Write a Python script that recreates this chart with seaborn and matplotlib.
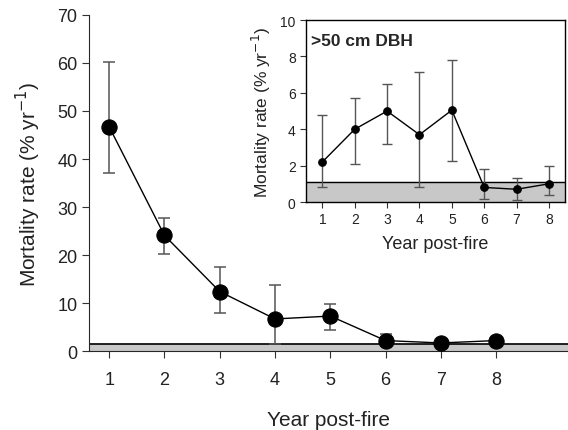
import numpy as np
import pandas as pd
import matplotlib
matplotlib.use("Agg")
import matplotlib.pyplot as plt
import seaborn as sns

# Data
years = [1, 2, 3, 4, 5, 6, 7, 8]
main_rate = [46.7, 24.1, 12.4, 6.7, 7.3, 2.2, 1.7, 2.2]
main_lo = [37.0, 20.2, 7.9, 1.4, 4.5, 1.0, 1.0, 1.5]
main_hi = [60.2, 27.8, 17.6, 13.7, 9.8, 3.6, 2.2, 2.8]
main_band = 1.4

big_rate = [2.2, 4.0, 5.0, 3.7, 5.05, 0.8, 0.7, 1.0]
big_lo = [0.8, 2.1, 3.2, 0.8, 2.25, 0.15, 0.1, 0.4]
big_hi = [4.8, 5.7, 6.5, 7.15, 7.8, 1.8, 1.3, 2.0]
big_band = 1.08

sns.set_style("ticks")
plt.rcParams['font.family'] = ['Liberation Sans', 'DejaVu Sans']

df_main = pd.DataFrame({"year": years, "rate": main_rate})
df_big = pd.DataFrame({"year": years, "rate": big_rate})

fig = plt.figure(figsize=(5.68, 4.31), dpi=100)
ax = fig.add_axes([0.157, 0.183, 0.843, 0.78])

# Main panel
ax.axhspan(0, main_band, color="#c8c8c8", zorder=0)
ax.axhline(main_band, color="black", lw=1.2, zorder=1)
ax.errorbar(years, main_rate,
            yerr=[np.array(main_rate) - np.array(main_lo), np.array(main_hi) - np.array(main_rate)],
            fmt="none", ecolor="#555555", elinewidth=1.1, capsize=4, capthick=1.1, zorder=2)
sns.lineplot(data=df_main, x="year", y="rate", ax=ax, color="black", lw=1,
             marker="o", markersize=11, markeredgecolor="black", zorder=3)
ax.set_xlim(0.638, 9.3)
ax.set_ylim(0, 70)
ax.set_xticks(years)
ax.set_yticks(range(0, 71, 10))
sns.despine(ax=ax, top=True, right=True)
ax.tick_params(labelsize=13, length=5, color="#333333", labelcolor="#222222")
ax.tick_params(axis="x", pad=9)
ax.set_xlabel("Year post-fire", fontsize=15, labelpad=16, color="#222222")
ax.set_ylabel("Mortality rate (% yr$^{-1}$)", fontsize=15, labelpad=10, color="#222222")

# Inset panel
ins = fig.add_axes([0.539, 0.529, 0.456, 0.422])
ins.axhspan(0, big_band, color="#c8c8c8", zorder=0)
ins.axhline(big_band, color="black", lw=1.0, zorder=1)
ins.errorbar(years, big_rate,
             yerr=[np.array(big_rate) - np.array(big_lo), np.array(big_hi) - np.array(big_rate)],
             fmt="none", ecolor="#555555", elinewidth=1.0, capsize=3.5, capthick=1.0, zorder=2)
sns.lineplot(data=df_big, x="year", y="rate", ax=ins, color="black", lw=1,
             marker="o", markersize=5.5, markeredgecolor="black", zorder=3)
ins.set_xlim(0.5, 8.5)
ins.set_ylim(0, 10)
ins.set_xticks(years)
ins.set_yticks(range(0, 11, 2))
for s in ins.spines.values():
    s.set_color("black")
    s.set_linewidth(1.0)
ins.tick_params(labelsize=10, length=4, color="#333333", labelcolor="#222222")
ins.set_xlabel("Year post-fire", fontsize=13, labelpad=6, color="#222222")
ins.set_ylabel("Mortality rate (% yr$^{-1}$)", fontsize=12.5, labelpad=5, color="#222222")
ins.text(0.02, 0.93, ">50 cm DBH", transform=ins.transAxes, fontsize=12.5,
         fontweight="bold", va="top", ha="left")

fig.savefig("out.png", dpi=100)
